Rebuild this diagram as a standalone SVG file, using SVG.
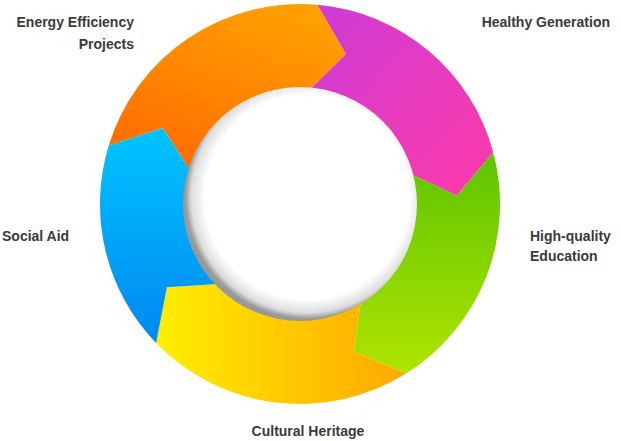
<svg xmlns="http://www.w3.org/2000/svg" width="621" height="441" viewBox="0 0 621 441">
<defs>
<linearGradient id="gO" x1="0.7" y1="0" x2="0.2" y2="1"><stop offset="0" stop-color="#ffa000"/><stop offset="1" stop-color="#ff6a00"/></linearGradient>
<linearGradient id="gM" x1="0" y1="0" x2="1" y2="1"><stop offset="0" stop-color="#cc3cd6"/><stop offset="1" stop-color="#ff3aa8"/></linearGradient>
<linearGradient id="gG" x1="0.5" y1="0" x2="0.5" y2="1"><stop offset="0" stop-color="#5cc400"/><stop offset="1" stop-color="#b0e400"/></linearGradient>
<linearGradient id="gY" x1="0" y1="0.5" x2="1" y2="0.5"><stop offset="0" stop-color="#ffee00"/><stop offset="1" stop-color="#ffa800"/></linearGradient>
<linearGradient id="gB" x1="0.5" y1="0" x2="0.5" y2="1"><stop offset="0" stop-color="#00c4ff"/><stop offset="1" stop-color="#0088f0"/></linearGradient>
<radialGradient id="gI" cx="0.53" cy="0.47" r="0.52"><stop offset="0.84" stop-color="#ffffff"/><stop offset="0.95" stop-color="#dddddd"/><stop offset="1" stop-color="#999999"/></radialGradient>
<style>text{font-family:"Liberation Sans",Arial,sans-serif;font-size:14px;font-weight:bold;fill:#3a3a3a}</style>
</defs>
<g id="connectors"/>
<g id="ring">
<path id="orange" fill="url(#gO)" d="M108.7,145.5 A200,200 0 0 1 317.4,4.8 L345.9,53.9 L310.0,89.4 A115,115 0 0 0 190.0,170.4 L162.7,127.9 Z"/>
<path id="magenta" fill="url(#gM)" d="M317.4,4.8 A200,200 0 0 1 493.2,152.2 L456.8,195.8 L411.1,174.2 A115,115 0 0 0 310.0,89.4 L345.9,53.9 Z"/>
<path id="green" fill="url(#gG)" d="M493.2,152.2 A200,200 0 0 1 406.0,373.6 L353.7,351.5 L360.9,301.5 A115,115 0 0 0 411.1,174.2 L456.8,195.8 Z"/>
<path id="yellow" fill="url(#gY)" d="M406.0,373.6 A200,200 0 0 1 156.1,342.9 L166.9,287.2 L217.3,283.9 A115,115 0 0 0 360.9,301.5 L353.7,351.5 Z"/>
<path id="blue" fill="url(#gB)" d="M156.1,342.9 A200,200 0 0 1 108.7,145.5 L162.7,127.9 L190.0,170.4 A115,115 0 0 0 217.3,283.9 L166.9,287.2 Z"/>
<circle id="hole" cx="300" cy="204" r="117" fill="url(#gI)"/>
</g>
<g id="labels">
<text x="134" y="27" text-anchor="end">Energy Efficiency</text>
<text x="134" y="49" text-anchor="end">Projects</text>
<text x="610" y="27" text-anchor="end">Healthy Generation</text>
<text x="2" y="241">Social Aid</text>
<text x="530" y="241">High-quality</text>
<text x="530" y="261">Education</text>
<text x="308" y="436" text-anchor="middle">Cultural Heritage</text>
</g>
</svg>
